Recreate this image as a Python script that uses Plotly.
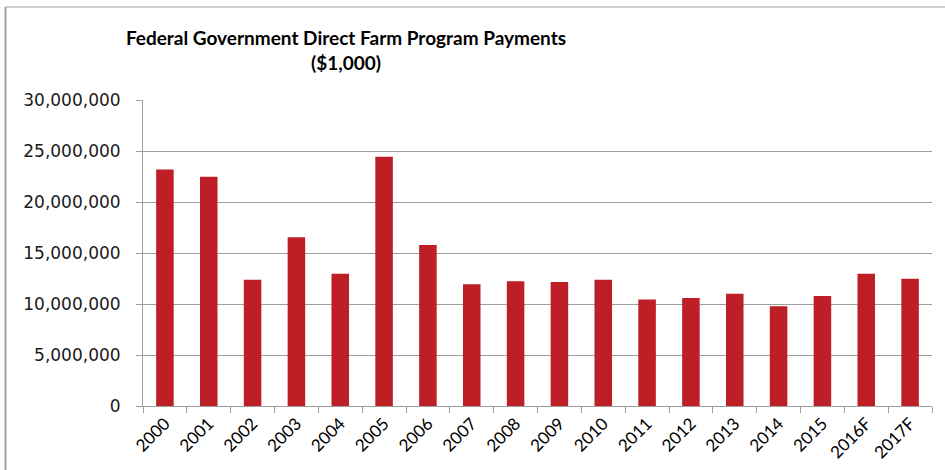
import plotly.graph_objects as go

years = ["2000", "2001", "2002", "2003", "2004", "2005", "2006", "2007", "2008",
         "2009", "2010", "2011", "2012", "2013", "2014", "2015", "2016F", "2017F"]
payments = [23180000, 22470000, 12380000, 16540000, 12970000, 24430000, 15790000,
            11930000, 12220000, 12150000, 12380000, 10450000, 10580000, 11000000,
            9790000, 10780000, 12970000, 12480000]
y_ticks = [0, 5000000, 10000000, 15000000, 20000000, 25000000, 30000000]

W, H = 945, 470
ml, mr, mt, mb = 143, 13, 100, 64
pw, ph = W - ml - mr, H - mt - mb

fig = go.Figure(go.Bar(x=years, y=payments, marker_color="#BE1E26",
                       marker_line_width=0))

grid = "#9E9E9E"
fig.update_layout(
    width=W, height=H, autosize=False,
    margin=dict(l=ml, r=mr, t=mt, b=mb, autoexpand=False),
    paper_bgcolor="white", plot_bgcolor="white",
    bargap=0.6, showlegend=False,
    title=dict(text="<b>Federal Government Direct Farm Program Payments<br>($1,000)</b>",
               x=346 / W, xanchor="center", xref="container",
               y=1 - 45 / H, yanchor="top", yref="container",
               font=dict(family="Lato, Open Sans, sans-serif", size=19, color="black")),
    xaxis=dict(type="category", showline=True, linecolor=grid, linewidth=1,
               ticks="outside", tickson="boundaries", ticklen=6, tickcolor=grid,
               tickangle=-45, showgrid=False, automargin=False,
               tickfont=dict(family="Lato, Open Sans, sans-serif", size=17, color="black")),
    yaxis=dict(range=[0, 30000000], tickvals=y_ticks, tickformat=",",
               showgrid=True, gridcolor=grid, gridwidth=1, zeroline=False,
               showline=True, linecolor=grid, linewidth=1, automargin=False,
               ticks="outside", ticklen=6, tickcolor=grid, ticklabelstandoff=12,
               tickfont=dict(family="DejaVu Sans, Verdana, sans-serif", size=17, color="#1a1a1a")),
    shapes=[
        dict(type="line", xref="paper", yref="paper",
             x0=(5.5 - ml) / pw, x1=(W - ml) / pw,
             y0=(H - mb - 7) / ph, y1=(H - mb - 7) / ph,
             line=dict(color="#BFBFBF", width=1.5)),
        dict(type="line", xref="paper", yref="paper",
             x0=(5.5 - ml) / pw, x1=(5.5 - ml) / pw,
             y0=(H - mb - 7) / ph, y1=-mb / ph,
             line=dict(color="#A0A0A0", width=2)),
    ],
)

fig.write_html("out.html")
